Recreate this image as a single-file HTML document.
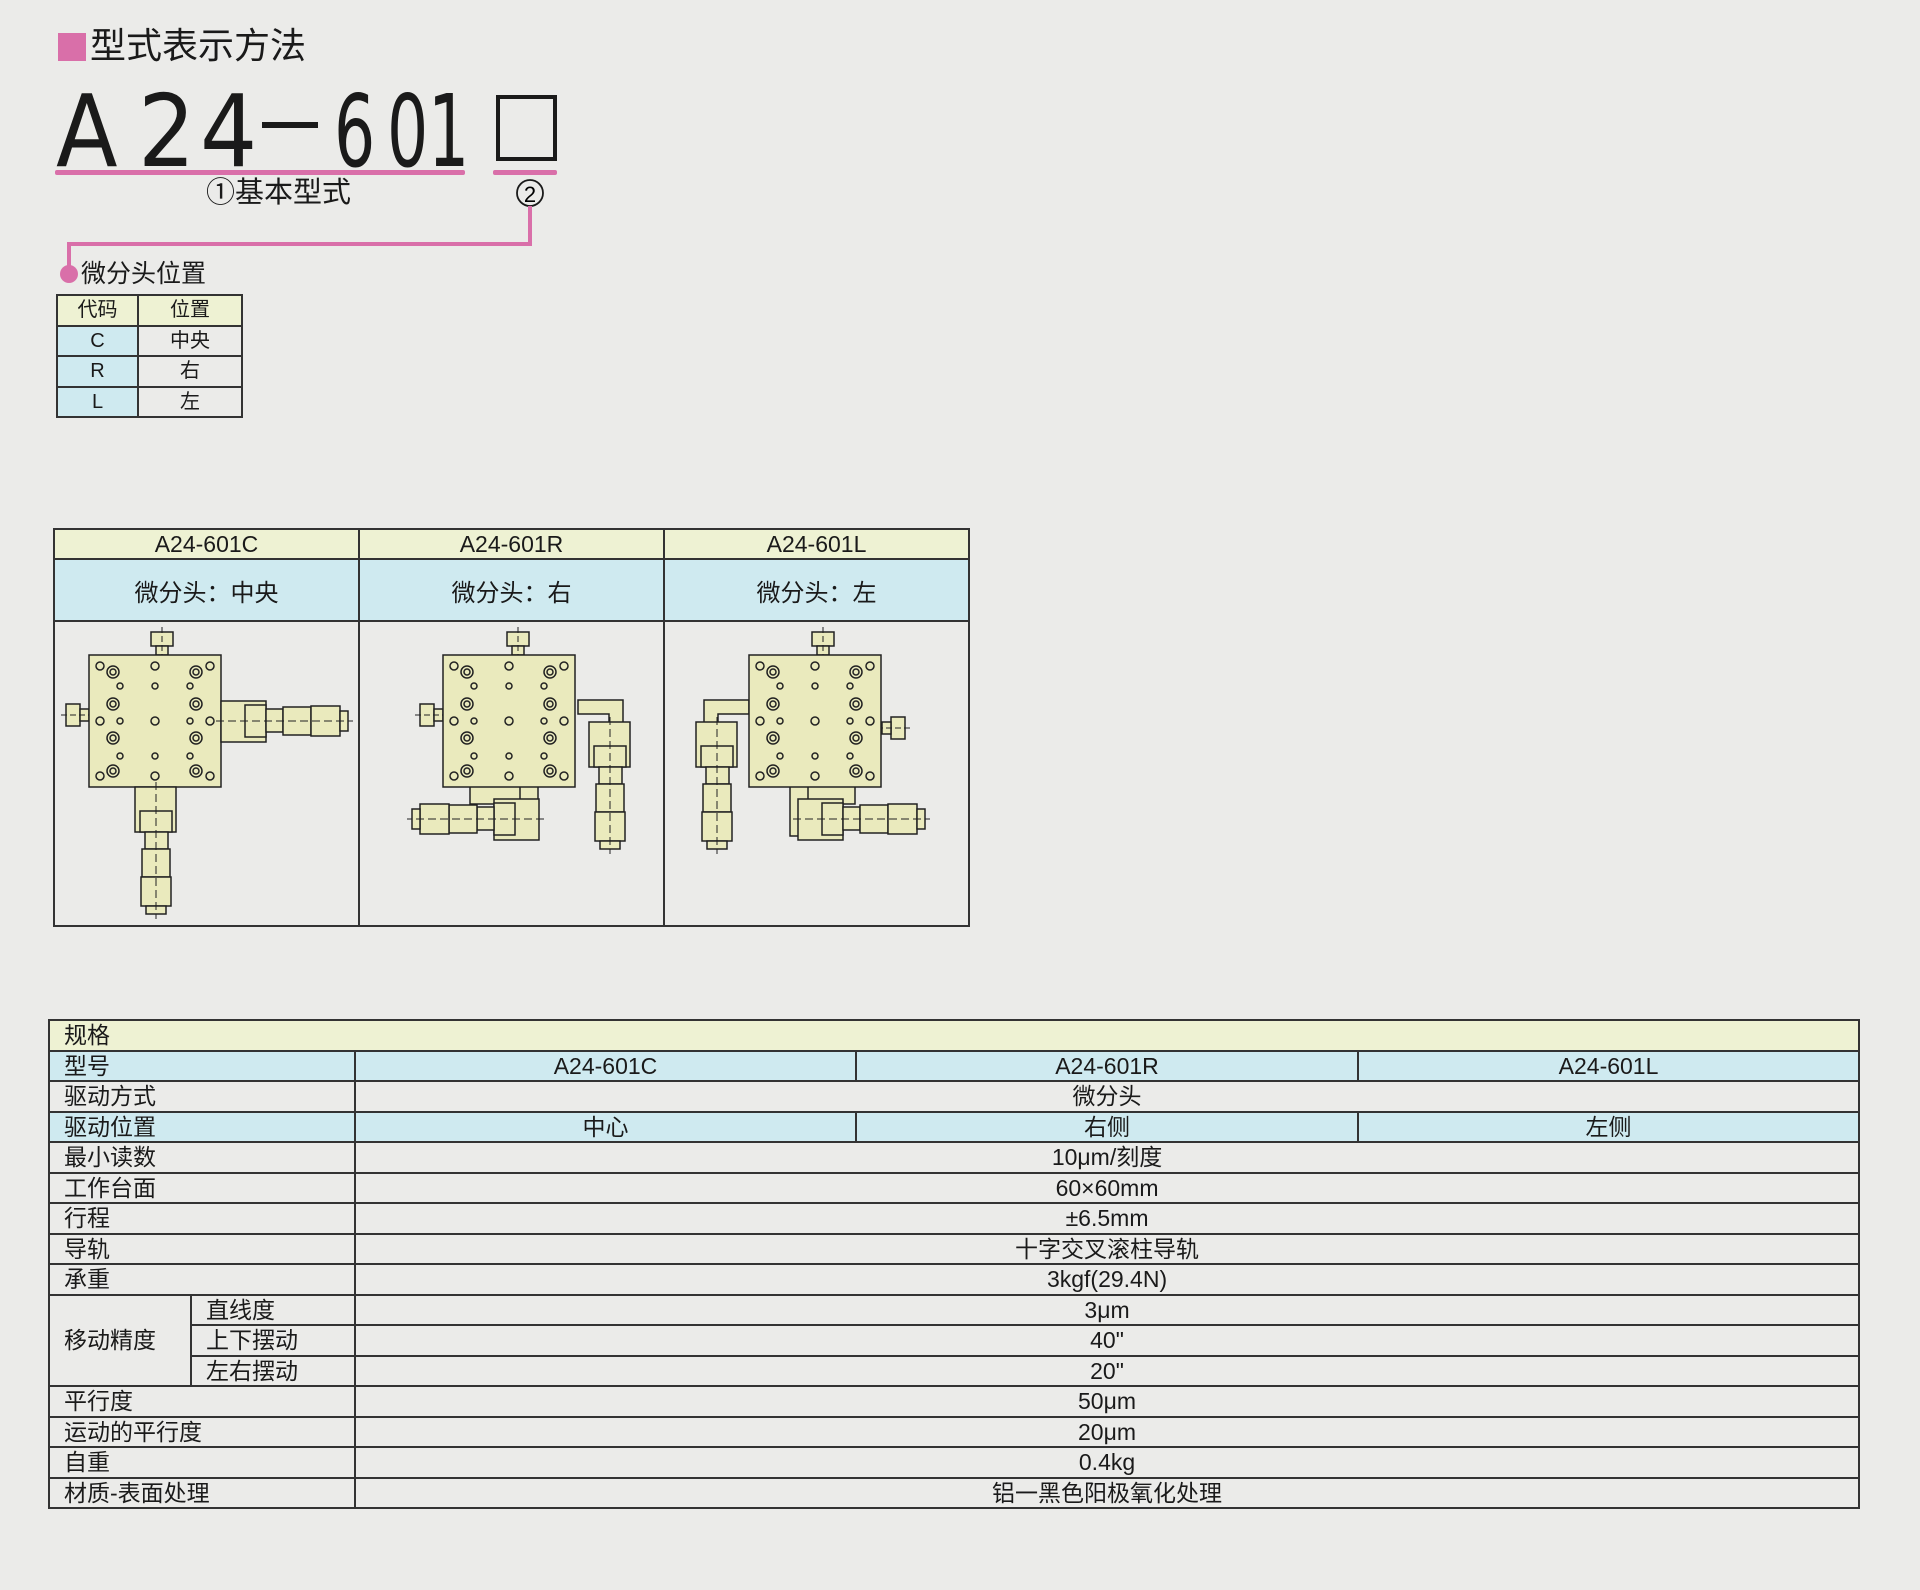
<!DOCTYPE html>
<html><head><meta charset="utf-8">
<style>
html,body{margin:0;padding:0;}
body{width:1920px;height:1590px;background:#ebebe9;position:relative;overflow:hidden;font-family:"Liberation Sans","Noto Sans CJK SC",sans-serif;color:#1a1a1a;}
.a{position:absolute;}
.big{position:absolute;font-size:100px;line-height:1;top:82px;font-family:"DejaVu Sans Condensed","Liberation Sans",sans-serif;color:#1a1a1a;}
.n{transform:scaleX(0.72);transform-origin:0 0;}
table{border-collapse:collapse;table-layout:fixed;position:absolute;}
td{border:2px solid #333;padding:0;white-space:nowrap;overflow:hidden;}
.st td{height:28.5px;font-size:20px;text-align:center;line-height:28px;}
.dt td{text-align:center;}
.sp td{height:28.5px;font-size:23px;line-height:28px;text-align:center;}
.sp td.l{text-align:left;padding-left:14px;}
.y{background:#eef2d3;}
.b{background:#cfeaf0;}
</style></head><body>
<div class="a" style="left:58px;top:33px;width:28px;height:28px;background:#d96fa9"></div>
<div class="a" style="left:90px;top:24px;font-size:36px;line-height:44px">型式表示方法</div>

<div class="big" style="left:56px">A</div>
<div class="big" style="left:138px">2</div>
<div class="big" style="left:200px">4</div>
<div class="a" style="left:262px;top:122px;width:56px;height:6px;background:#1a1a1a"></div>
<div class="big n" style="left:334px">6</div>
<div class="big n" style="left:387px">0</div>
<div class="big n" style="left:428px">1</div>
<div class="a" style="left:496px;top:95px;width:53px;height:58px;border:4px solid #1a1a1a"></div>
<div class="a" style="left:55px;top:170px;width:410px;height:5px;background:#d96fa9;border-radius:2px"></div>
<div class="a" style="left:493px;top:170px;width:64px;height:5px;background:#d96fa9;border-radius:2px"></div>
<div class="a" style="left:206px;top:175px;font-size:29px;line-height:36px">①基本型式</div>

<svg class="a" style="left:0;top:0" width="1920" height="1000">
<circle cx="530" cy="193" r="13" fill="none" stroke="#1a1a1a" stroke-width="1.8"/>
<text x="530" y="202" font-size="22" text-anchor="middle" font-family="Liberation Sans">2</text>
<polyline points="530,206 530,244 69,244 69,272" fill="none" stroke="#d96fa9" stroke-width="4"/>
<circle cx="69" cy="274" r="9" fill="#d96fa9"/>
</svg>
<div class="a" style="left:81px;top:258px;font-size:25px;line-height:32px">微分头位置</div>

<table class="st" style="left:56px;top:294px;width:185px">
<colgroup><col style="width:81px"><col style="width:104px"></colgroup>
<tr class="y"><td>代码</td><td>位置</td></tr>
<tr><td class="b">C</td><td>中央</td></tr>
<tr><td class="b">R</td><td>右</td></tr>
<tr><td class="b">L</td><td>左</td></tr>
</table>

<table class="dt" style="left:53px;top:528px;width:915px">
<colgroup><col style="width:305px"><col style="width:305px"><col style="width:305px"></colgroup>
<tr class="y" style="height:30px"><td style="font-size:23px">A24-601C</td><td style="font-size:23px">A24-601R</td><td style="font-size:23px">A24-601L</td></tr>
<tr class="b" style="height:62px"><td style="font-size:24px">微分头：中央</td><td style="font-size:24px">微分头：右</td><td style="font-size:24px">微分头：左</td></tr>
<tr style="height:305px"><td></td><td></td><td></td></tr>
</table>

<svg class="a" style="left:0;top:0" width="1000" height="1000">
<defs>
<g id="sq">
<rect x="0" y="0" width="132" height="132" fill="#eaeabd" stroke="#222" stroke-width="1.5"/>
<g fill="none" stroke="#222" stroke-width="1.5">
<circle cx="24" cy="17" r="6"/><circle cx="24" cy="17" r="3"/>
<circle cx="107" cy="17" r="6"/><circle cx="107" cy="17" r="3"/>
<circle cx="24" cy="49" r="6"/><circle cx="24" cy="49" r="3"/>
<circle cx="107" cy="49" r="6"/><circle cx="107" cy="49" r="3"/>
<circle cx="24" cy="83" r="6"/><circle cx="24" cy="83" r="3"/>
<circle cx="107" cy="83" r="6"/><circle cx="107" cy="83" r="3"/>
<circle cx="24" cy="116" r="6"/><circle cx="24" cy="116" r="3"/>
<circle cx="107" cy="116" r="6"/><circle cx="107" cy="116" r="3"/>
<circle cx="11" cy="11" r="4"/><circle cx="66" cy="11" r="4"/><circle cx="121" cy="11" r="4"/>
<circle cx="11" cy="66" r="4"/><circle cx="66" cy="66" r="4"/><circle cx="121" cy="66" r="4"/>
<circle cx="11" cy="121" r="4"/><circle cx="66" cy="121" r="4"/><circle cx="121" cy="121" r="4"/>
<circle cx="31" cy="31" r="3"/><circle cx="66" cy="31" r="3"/><circle cx="101" cy="31" r="3"/>
<circle cx="31" cy="66" r="3"/><circle cx="101" cy="66" r="3"/>
<circle cx="31" cy="101" r="3"/><circle cx="66" cy="101" r="3"/><circle cx="101" cy="101" r="3"/>
</g>
</g>
<g id="mic" fill="#eaeabd" stroke="#222" stroke-width="1.5">
<rect x="0" y="-20" width="45" height="41"/>
<rect x="24" y="-16" width="21" height="32"/>
<rect x="45" y="-12" width="17" height="23"/>
<rect x="62" y="-14" width="28" height="28"/>
<rect x="90" y="-15" width="29" height="30"/>
<rect x="119" y="-10" width="8" height="20"/>
<line x1="-5" y1="0" x2="132" y2="0" stroke-dasharray="8,4" stroke-width="1"/>
</g>
<g id="knob" fill="#eaeabd" stroke="#222" stroke-width="1.5">
<rect x="-11" y="-23" width="22" height="14"/>
<rect x="-6" y="-9" width="12" height="9"/>
<line x1="0" y1="-28" x2="0" y2="8" stroke-dasharray="6,3" stroke-width="1"/>
</g>
</defs>
<use href="#knob" transform="translate(162,655)"/>
<use href="#knob" transform="translate(89,715) rotate(-90)"/>
<use href="#sq" x="89" y="655"/>
<use href="#mic" transform="translate(221,721)"/>
<use href="#mic" transform="translate(156,787) rotate(90)"/>
<g fill="#eaeabd" stroke="#222" stroke-width="1.5">
<path d="M578,700 h45 v40 h-14 v-26 h-31 z"/>
<path d="M470,786 v18 h60 v-18 z"/>
<path d="M520,786 h18 v50 h-18 z"/>
</g>
<use href="#knob" transform="translate(518,655)"/>
<use href="#knob" transform="translate(443,715) rotate(-90)"/>
<use href="#sq" x="443" y="655"/>
<use href="#mic" transform="translate(610,722) rotate(90)"/>
<use href="#mic" transform="translate(539,819) scale(-1,1)"/>
<g fill="#eaeabd" stroke="#222" stroke-width="1.5">
<path d="M749,700 h-45 v40 h14 v-26 h31 z"/>
<path d="M795,786 v18 h60 v-18 z"/>
<path d="M790,786 h18 v50 h-18 z"/>
</g>
<use href="#knob" transform="translate(823,655)"/>
<use href="#knob" transform="translate(882,728) rotate(90)"/>
<use href="#sq" x="749" y="655"/>
<use href="#mic" transform="translate(717,722) rotate(90)"/>
<use href="#mic" transform="translate(798,819)"/>
</svg>

<table class="sp" style="left:48px;top:1019px;width:1810px">
<colgroup><col style="width:142px"><col style="width:164px"><col style="width:501px"><col style="width:502px"><col style="width:501px"></colgroup>
<tr class="y"><td class="l" colspan="5">规格</td></tr>
<tr class="b"><td class="l" colspan="2">型号</td><td>A24-601C</td><td>A24-601R</td><td>A24-601L</td></tr>
<tr><td class="l" colspan="2">驱动方式</td><td colspan="3">微分头</td></tr>
<tr class="b"><td class="l" colspan="2">驱动位置</td><td>中心</td><td>右侧</td><td>左侧</td></tr>
<tr><td class="l" colspan="2">最小读数</td><td colspan="3">10μm/刻度</td></tr>
<tr><td class="l" colspan="2">工作台面</td><td colspan="3">60×60mm</td></tr>
<tr><td class="l" colspan="2">行程</td><td colspan="3">±6.5mm</td></tr>
<tr><td class="l" colspan="2">导轨</td><td colspan="3">十字交叉滚柱导轨</td></tr>
<tr><td class="l" colspan="2">承重</td><td colspan="3">3kgf(29.4N)</td></tr>
<tr><td class="l" rowspan="3">移动精度</td><td class="l">直线度</td><td colspan="3">3μm</td></tr>
<tr><td class="l">上下摆动</td><td colspan="3">40"</td></tr>
<tr><td class="l">左右摆动</td><td colspan="3">20"</td></tr>
<tr><td class="l" colspan="2">平行度</td><td colspan="3">50μm</td></tr>
<tr><td class="l" colspan="2">运动的平行度</td><td colspan="3">20μm</td></tr>
<tr><td class="l" colspan="2">自重</td><td colspan="3">0.4kg</td></tr>
<tr><td class="l" colspan="2">材质-表面处理</td><td colspan="3">铝一黑色阳极氧化处理</td></tr>
</table>
</body></html>
